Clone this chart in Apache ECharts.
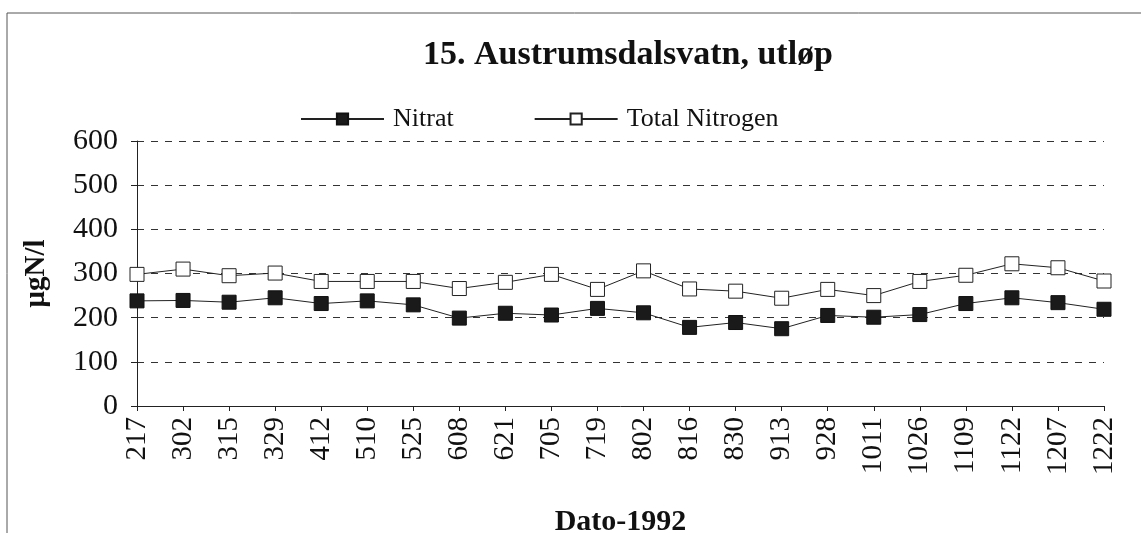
<!DOCTYPE html>
<html>
<head>
<meta charset="utf-8">
<script src="https://cdn.jsdelivr.net/npm/echarts@6/dist/echarts.min.js"></script>
<style>
  html, body { margin: 0; padding: 0; background: #fff; }
  #main { width: 1141px; height: 533px; }
</style>
</head>
<body>
<div id="main"></div>
<script>
// datoer 1992 (mmdd)
var dates = ['217', '302', '315', '329', '412', '510', '525', '608', '621', '705', '719',
    '802', '816', '830', '913', '928', '1011', '1026', '1109', '1122', '1207', '1222'];
var nitrat = [238, 239, 235, 245, 232, 238, 229, 199, 210, 206, 221,
    211, 178, 189, 175, 205, 201, 207, 232, 245, 234, 219];
var totalN = [298, 310, 295, 301, 282, 282, 282, 266, 280, 298, 264,
    306, 265, 260, 244, 264, 250, 282, 296, 322, 313, 283];

var font = 'Liberation Serif';
var chart = echarts.init(document.getElementById('main'));
var option = {
    backgroundColor: '#fff',
    animation: false,
    title: {
        text: '15. Austrumsdalsvatn, utløp',
        left: 623,
        textAlign: 'center',
        top: 33,
        textStyle: { fontFamily: font, fontSize: 34, fontWeight: 'bold', color: '#111' }
    },
    legend: {
        left: 295,
        top: 101,
        itemWidth: 83,
        itemHeight: 14,
        itemGap: 80,
        textStyle: { fontFamily: font, fontSize: 26, color: '#111', padding: [0, 0, 0, 4] },
        data: ['Nitrat', 'Total Nitrogen']
    },
    grid: { left: 137, right: 37, top: 141, bottom: 127, containLabel: false, outerBoundsMode: 'none' },
    xAxis: {
        type: 'category',
        data: dates,
        boundaryGap: false,
        name: 'Dato-1992',
        nameLocation: 'middle',
        nameGap: 101,
        nameTextStyle: { fontFamily: font, fontSize: 30, fontWeight: 'bold', color: '#111' },
        axisLine: { lineStyle: { color: '#222', width: 1 } },
        axisTick: { alignWithLabel: true, length: 5, lineStyle: { color: '#222' } },
        axisLabel: { rotate: 90, fontFamily: font, fontSize: 29, color: '#111', margin: 11 }
    },
    yAxis: {
        type: 'value',
        min: 0,
        max: 600,
        interval: 100,
        name: 'μgN/l',
        nameLocation: 'middle',
        nameGap: 86,
        nameTextStyle: { fontFamily: font, fontSize: 29, fontWeight: 'bold', color: '#111' },
        axisLine: { show: true, lineStyle: { color: '#222', width: 1 } },
        axisTick: { show: true, length: 6, lineStyle: { color: '#222' } },
        axisLabel: { fontFamily: font, fontSize: 30, color: '#111', margin: 19 },
        splitLine: { lineStyle: { color: '#333', type: [7, 7], width: 1 } }
    },
    graphic: [{
        type: 'rect',
        shape: { x: 7, y: 13, width: 1150, height: 540 },
        style: { fill: 'none', stroke: '#555', lineWidth: 1 },
        silent: true
    }],
    series: [{
        name: 'Nitrat',
        type: 'line',
        data: nitrat,
        symbol: 'rect',
        symbolSize: 14,
        lineStyle: { color: '#222', width: 1 },
        itemStyle: { color: '#1a1a1a', borderColor: '#111', borderWidth: 1 }
    }, {
        name: 'Total Nitrogen',
        type: 'line',
        data: totalN,
        symbol: 'rect',
        symbolSize: 14,
        lineStyle: { color: '#222', width: 1 },
        itemStyle: { color: '#fff', borderColor: '#222', borderWidth: 1 }
    }]
};
chart.setOption(option);
</script>
</body>
</html>
